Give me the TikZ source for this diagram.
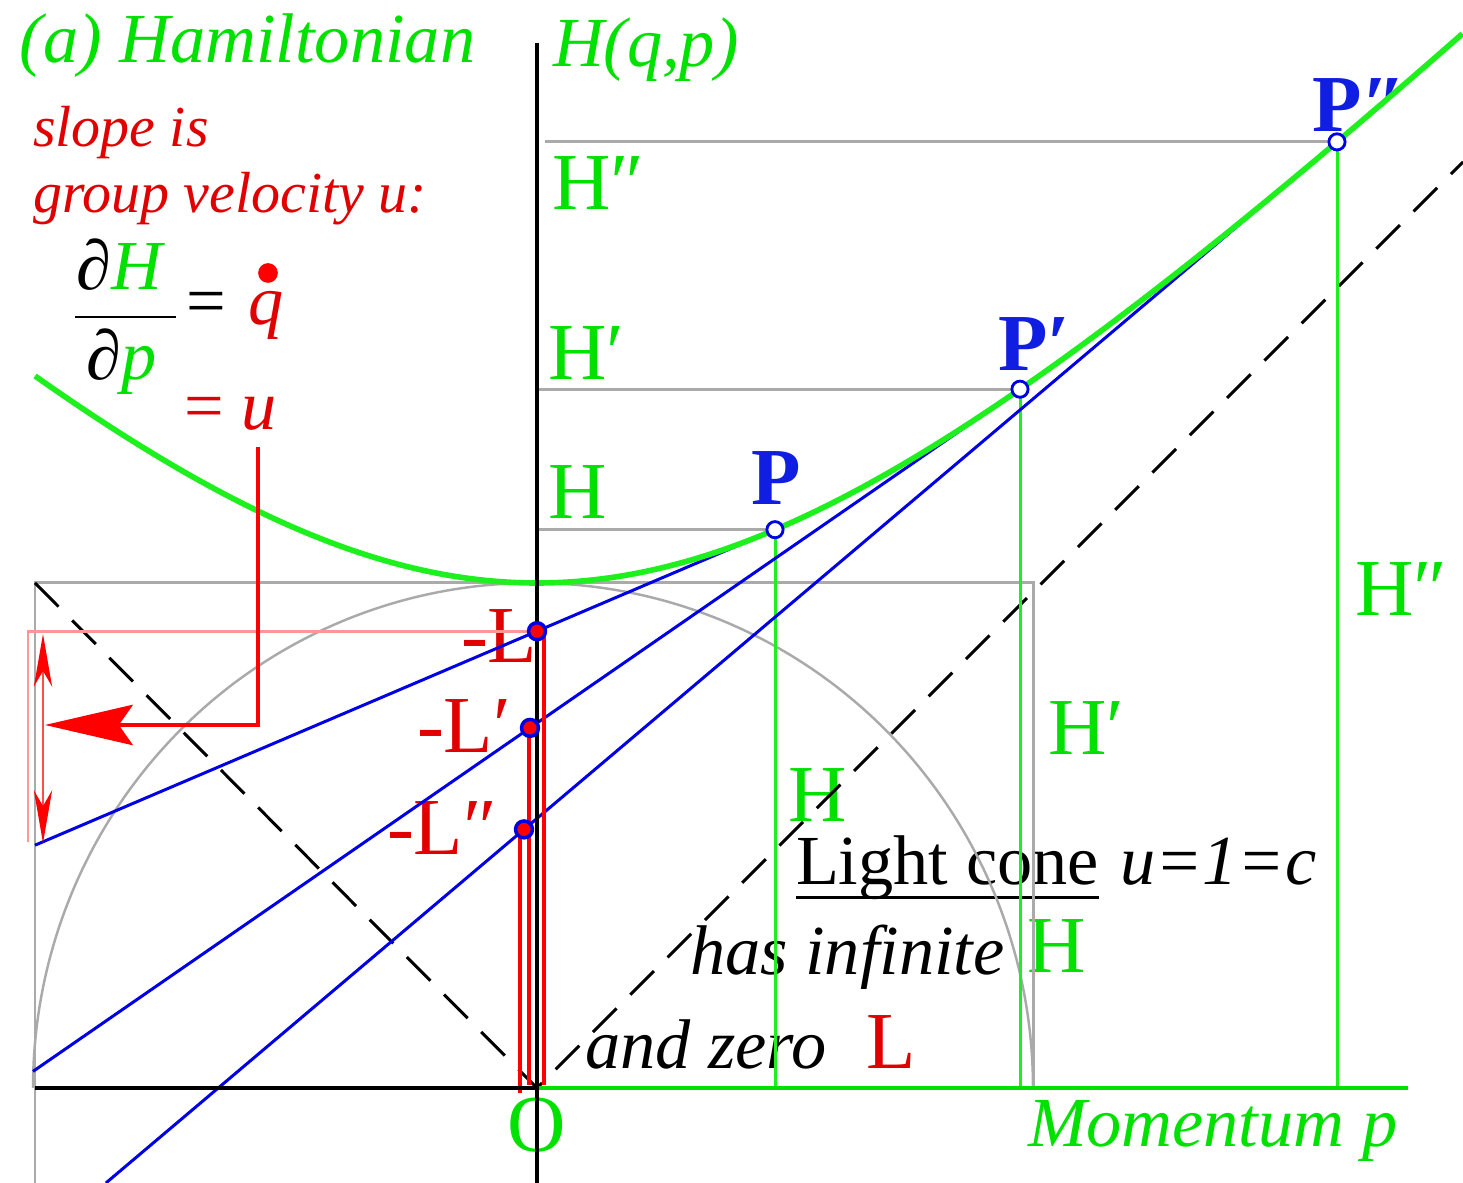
\documentclass[tikz,border=0pt]{standalone}
\usepackage{fontspec}
\setmainfont{Liberation Serif}[ItalicFont={Liberation Serif Italic}, BoldFont={Liberation Serif Bold}]
\usetikzlibrary{arrows.meta}
\definecolor{hgreen}{RGB}{0,225,0}
\definecolor{lgreen}{RGB}{30,240,30}
\definecolor{hred}{RGB}{225,0,0}
\definecolor{lred}{RGB}{255,0,0}
\definecolor{pinkbox}{RGB}{255,150,150}
\definecolor{hblue}{RGB}{0,0,230}
\definecolor{pblue}{RGB}{15,30,225}
\definecolor{hgray}{RGB}{170,170,170}
\begin{document}
\begin{tikzpicture}[x=0.01cm, y=-0.01cm,
  txt/.style={inner sep=0pt, outer sep=0pt, anchor=base west},
  gH/.style={txt, text=hgreen, font=\fontsize{23}{27}\selectfont},
  gI/.style={txt, text=hgreen, font=\fontsize{20}{24}\selectfont\itshape},
  rI/.style={txt, text=hred, font=\fontsize{16.5}{20}\selectfont\itshape},
  bI/.style={txt, text=black, font=\fontsize{20}{24}\selectfont\itshape},
  rL/.style={txt, text=hred, font=\fontsize{23}{27}\selectfont},
  pP/.style={txt, text=pblue, font=\fontsize{23}{27}\selectfont\bfseries},
  fr/.style={txt, font=\fontsize{20}{24}\selectfont},
  axisline/.style={line width=1.2pt},
  grayline/.style={hgray, line width=0.85pt},
  vline/.style={lgreen, line width=0.85pt},
  tangent/.style={hblue, line width=0.85pt},
  lcone/.style={black, line width=0.85pt, dash pattern=on 9.5pt off 5.5pt},
  redbar/.style={lred, line width=1.2pt},
  pdot/.style={circle, draw=hblue, fill=white, line width=0.8pt, inner sep=0pt, minimum size=4.6pt},
  ldot/.style={circle, draw=hblue, fill=lred, line width=1pt, inner sep=0pt, minimum size=4.8pt}
]
\useasboundingbox (0,0) rectangle (1463,1183);

% ---------- texts ----------
\node[gI] (title) at (20,63) {(a) Hamiltonian};
\node[gI] (Hqp) at (553,67) {H(q,p)};
\node[rI] (slope) at (33,147) {slope is};
\node[rI] (gv) at (33,213) {group velocity u:};
\node[fr] (num) at (77,290) {∂\textcolor{hgreen}{\itshape H}};
\node[fr] (den) at (87,380) {∂\textcolor{hgreen}{\itshape p}};
\node[fr] (eqa) at (186,325) {=};
\node[fr, text=hred] (qq) at (248,325) {\itshape q};
\node[circle, fill=lred, inner sep=0pt, minimum size=5.6pt] (qdot) at (268,273) {};
\node[fr, text=hred] (equ) at (184,430) {= {\itshape u}};

\node[gH] (Hpp) at (552,210) {H″};
\node[gH] (Hp) at (548,380) {H′};
\node[gH] (H) at (548,519) {H};
\node[pP] (Plab) at (751,505) {P};
\node[pP] (Pplab) at (998,371) {P′};
\node[pP] (Ppplab) at (1312,132) {P″};
\node[gH] (Hppr) at (1355,616) {H″};
\node[gH] (Hpr) at (1048,755) {H′};
\node[gH] (Hm) at (788,822) {H};
\node[gH] (Hr) at (1027,973) {H};
\node[rL] (mL) at (461,663) {-L};
\node[rL] (mLp) at (417,753) {-L′};
\node[rL] (mLpp) at (387,855) {-L″};
\node[bI, font=\fontsize{20}{24}\selectfont] (lc) at (796,885) {Light cone};
\node[bI] (uc) at (1120,885) {u=1=c};
\node[bI] (inf) at (690,975) {has infinite};
\node[bI] (zero) at (585,1069) {and zero};
\node[rL] (Lz) at (866,1069) {L};
\node[gH, anchor=base] (Olab) at (537,1152) {O};
\node[gI] (mom) at (1028,1147) {Momentum p};
\draw[line width=0.9pt] ([yshift=-3.6pt]lc.base west) -- ([yshift=-3.6pt]lc.base east);

% ---------- coordinates ----------
\coordinate (O) at (537,1088);
\coordinate (Atop) at (537,43);
\coordinate (Abot) at (537,1183);
\coordinate (Xl) at (35,1088);
\coordinate (Xr) at (1408,1088);
\coordinate (P) at (775,529.7);
\coordinate (Pp) at (1020,389.2);
\coordinate (Ppp) at (1337,141.9);
\coordinate (L1) at (537,631.2);
\coordinate (L2) at (530,727.9);
\coordinate (L3) at (524,829.4);
\coordinate (T1) at (35,845.2);
\coordinate (T2) at (33,1071.4);
\coordinate (T3) at (105.9,1183);
\coordinate (RtL) at (35,583);
\coordinate (RtR) at (1033,583);
\coordinate (RbL) at (35,1183);
\coordinate (RbR) at (1033,1088);
\coordinate (HPa) at (537,529.7);
\coordinate (HPb) at (537,389.2);
\coordinate (HPc) at (545,141.9);
\coordinate (PfP) at (775,1088);
\coordinate (PfPp) at (1020,1088);
\coordinate (PfPpp) at (1337,1088);
\coordinate (DL) at (35,583);
\coordinate (DR) at (1463,162);
\coordinate (pkA) at (28,631.2);
\coordinate (pkB) at (28,842);
\coordinate (daT) at (43,634);
\coordinate (daB) at (43,843);
\coordinate (arS) at (258,447);
\coordinate (arC) at (258,725);
\coordinate (arE) at (45,725);
\coordinate (rt1) at (544,636);
\coordinate (rt2) at (529,733);
\coordinate (rt3) at (520,834);
\coordinate (rb1) at (544,1085);
\coordinate (rb2) at (529,1085);
\coordinate (rb3) at (520,1093);

% ---------- gray construction ----------
\draw[grayline] (RbL) -- (RtL) -- (RtR) -- (RbR);
\draw[hgray, line width=0.7pt] plot[domain=0:180, samples=120, smooth] ({533+500*cos(\x)},{1088-505*sin(\x)});
\draw[grayline] (HPa) -- (P);
\draw[grayline] (HPb) -- (Pp);
\draw[grayline] (HPc) -- (Ppp);

% ---------- light cone ----------
\draw[lcone] (DL) -- (O) -- (DR);

% ---------- green verticals ----------
\draw[vline] (P) -- (PfP);
\draw[vline] (Pp) -- (PfPp);
\draw[vline] (Ppp) -- (PfPpp);

% ---------- tangents ----------
\draw[tangent] (T1) -- (P);
\draw[tangent] (T2) -- (Pp);
\draw[tangent] (T3) -- (Ppp);

% ---------- Hamiltonian curve ----------
\draw[lgreen, line width=1.6pt] plot[domain=-0.994:1.834, samples=160, smooth] ({537+505*\x},{1088-505*sqrt(1+\x*\x)});

% ---------- red bars ----------
\draw[redbar] (rt1) -- (rb1);
\draw[redbar] (rt2) -- (rb2);
\draw[redbar] (rt3) -- (rb3);

% ---------- axes ----------
\draw[axisline, hgreen] (O) -- (Xr);
\draw[axisline] (Xl) -- (O);
\draw[axisline] (Atop) -- (Abot);

% ---------- pink box and arrows ----------
\draw[pinkbox, line width=0.8pt] (L1) -- (pkA) -- (pkB);
\draw[lred!70, line width=0.5pt, {Stealth[length=15pt,width=5.2pt,inset=4.5pt,color=lred]}-{Stealth[length=15pt,width=5.2pt,inset=4.5pt,color=lred]}] (daT) -- (daB);
\draw[lred, line width=0.9pt, -{Stealth[length=25pt,width=11.5pt,inset=4pt]}] (arS) -- (arC) -- (arE);

% ---------- dots ----------
\node[pdot] (dP) at (P) {};
\node[pdot] (dPp) at (Pp) {};
\node[pdot] (dPpp) at (Ppp) {};
\node[ldot] (dL1) at (L1) {};
\node[ldot] (dL2) at (L2) {};
\node[ldot] (dL3) at (L3) {};

% fraction bar
\coordinate (barL) at (75,317);
\coordinate (barR) at (176,317);
\draw[line width=0.7pt] (barL) -- (barR);
\end{tikzpicture}
\end{document}
